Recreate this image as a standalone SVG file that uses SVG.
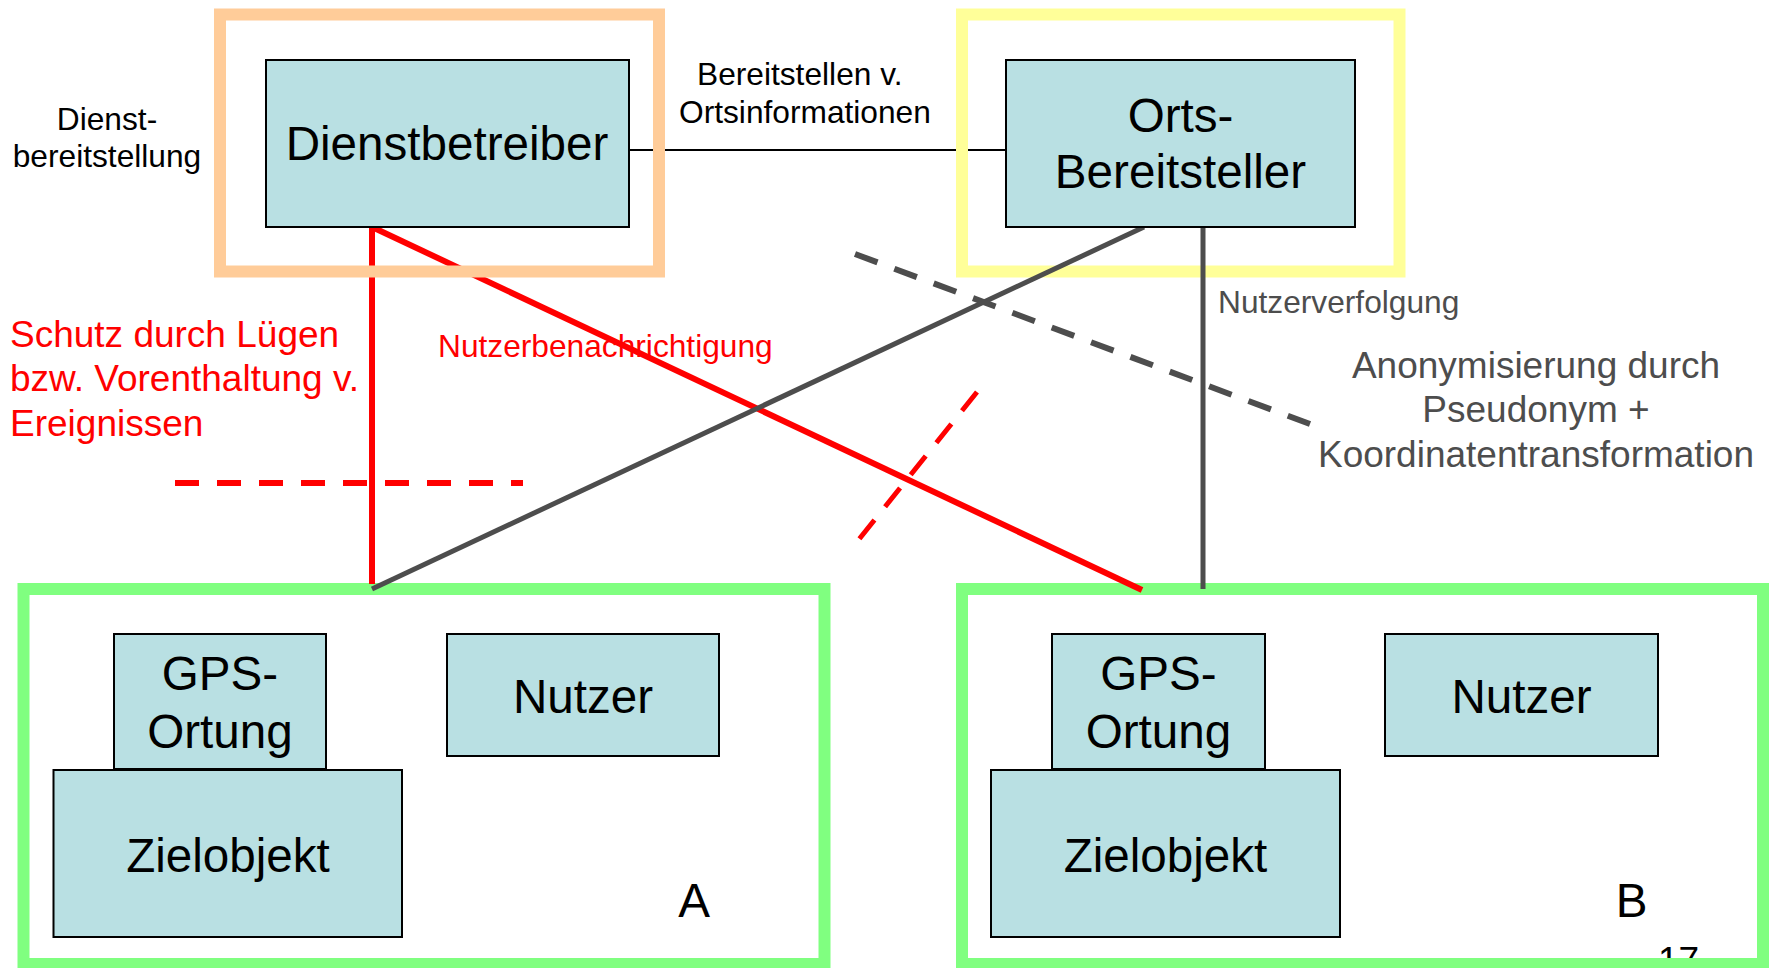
<svg xmlns="http://www.w3.org/2000/svg" width="1769" height="968" viewBox="0 0 1769 968">
<style>
text{font-family:"Liberation Sans",Arial,sans-serif}
.box{fill:#B9E0E3;stroke:#000;stroke-width:2}
.big{font-size:47.6px;fill:#000;text-anchor:middle}
.mid{font-size:31.7px}
.lg{font-size:37px}
.frame{fill:none;stroke-width:12}
.red{stroke:#FF0000;fill:none}
.gray{stroke:#4D4D4D;fill:none}
</style>
<rect width="1769" height="968" fill="#fff"/>
<text x="1658" y="973" style="font-size:37px" fill="#000">17</text>
<g id="frameA"><rect class="frame" x="23.5" y="589" width="801" height="375" stroke="#80FF80"/></g>
<g id="frameB"><rect class="frame" x="962" y="589" width="801" height="375" stroke="#80FF80"/></g>
<g id="connectors-back">
<line x1="629" y1="150" x2="1006" y2="150" stroke="#000" stroke-width="2"/>
<line class="red" x1="372" y1="227" x2="372" y2="584" stroke-width="6"/>
<line class="red" x1="372" y1="227" x2="1142" y2="590" stroke-width="6"/>
</g>
<g id="frameOrange"><rect class="frame" x="220" y="14.5" width="439" height="257" stroke="#FFCC99"/></g>
<g id="frameYellow"><rect class="frame" x="962" y="14.5" width="437.5" height="257" stroke="#FFFF99"/></g>
<g id="connectors">
<line class="gray" x1="1144" y1="227" x2="372" y2="589" stroke-width="5"/>
<line class="gray" x1="1203" y1="227" x2="1203" y2="589" stroke-width="5"/>
<line class="gray" x1="855" y1="254" x2="1310" y2="424" stroke-width="6" stroke-dasharray="24 18"/>
<line class="red" x1="175" y1="483" x2="523" y2="483" stroke-width="6" stroke-dasharray="24 18"/>
<line class="red" x1="977" y1="392" x2="856" y2="543" stroke-width="5" stroke-dasharray="24 17"/>
</g>
<g id="dienstbetreiber">
<rect class="box" x="266" y="60" width="363" height="167"/>
<text class="big" x="447" y="160">Dienstbetreiber</text>
</g>
<g id="ortsbereitsteller">
<rect class="box" x="1006" y="60" width="349" height="167"/>
<text class="big" x="1180.5" y="132">Orts-</text>
<text class="big" x="1180.5" y="188">Bereitsteller</text>
</g>
<g id="gpsA">
<rect class="box" x="114" y="634" width="212" height="135"/>
<text class="big" x="220" y="690">GPS-</text>
<text class="big" x="220" y="748">Ortung</text>
</g>
<g id="zielA">
<rect class="box" x="53.5" y="770" width="348.5" height="167"/>
<text class="big" x="228" y="872">Zielobjekt</text>
</g>
<g id="nutzerA">
<rect class="box" x="447" y="634" width="272" height="122"/>
<text class="big" x="583" y="713">Nutzer</text>
</g>
<g id="gpsB">
<rect class="box" x="1052" y="634" width="213" height="135"/>
<text class="big" x="1158.5" y="690">GPS-</text>
<text class="big" x="1158.5" y="748">Ortung</text>
</g>
<g id="zielB">
<rect class="box" x="991" y="770" width="349" height="167"/>
<text class="big" x="1165.5" y="872">Zielobjekt</text>
</g>
<g id="nutzerB">
<rect class="box" x="1385" y="634" width="273" height="122"/>
<text class="big" x="1521.5" y="713">Nutzer</text>
</g>
<g id="labels">
<text class="big" x="694" y="917">A</text>
<text class="big" x="1631.5" y="917">B</text>
<text class="mid" x="107" y="130" text-anchor="middle" fill="#000">Dienst-</text>
<text class="mid" x="107" y="167" text-anchor="middle" fill="#000">bereitstellung</text>
<text class="mid" x="697" y="85" fill="#000">Bereitstellen v.</text>
<text class="mid" x="679" y="123" fill="#000">Ortsinformationen</text>
<text class="mid" x="438" y="357" fill="#FF0000">Nutzerbenachrichtigung</text>
<text class="lg" x="10" y="347" fill="#FF0000">Schutz durch Lügen</text>
<text class="lg" x="10" y="391" fill="#FF0000">bzw. Vorenthaltung v.</text>
<text class="lg" x="10" y="436" fill="#FF0000">Ereignissen</text>
<text class="mid" x="1218" y="313" fill="#4D4D4D">Nutzerverfolgung</text>
<text class="lg" x="1536" y="378" text-anchor="middle" fill="#4D4D4D">Anonymisierung durch</text>
<text class="lg" x="1536" y="422" text-anchor="middle" fill="#4D4D4D">Pseudonym +</text>
<text class="lg" x="1536" y="467" text-anchor="middle" fill="#4D4D4D">Koordinatentransformation</text>
</g>
</svg>
